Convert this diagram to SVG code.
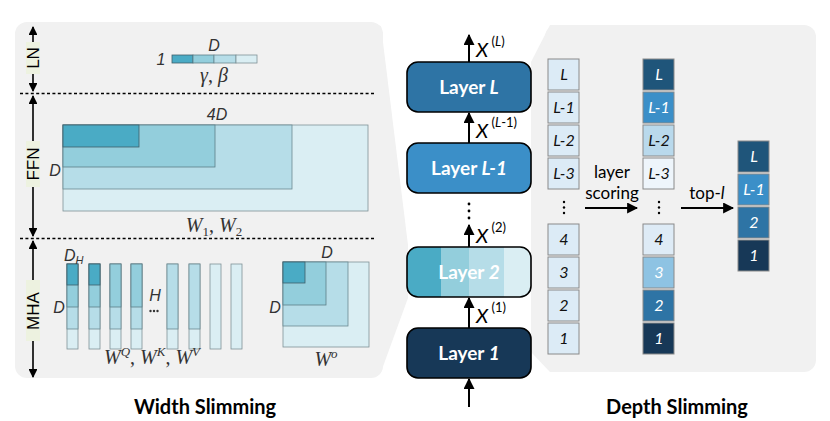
<svg xmlns="http://www.w3.org/2000/svg" width="830" height="421" viewBox="0 0 830 421">
<style>
.panel{fill:#f1f1f1}
.ax{stroke:#000;stroke-width:1.6;fill:none}
.dash{stroke:#000;stroke-width:1.5;stroke-dasharray:3 2.4}
.lbl{fill:#edf2e0}
.sec{font-family:"Liberation Sans",Arial,sans-serif;font-size:17px;fill:#000}
.c0{fill:#4aabc5;stroke:#3f5f6a;stroke-width:0.8}
.c1{fill:#93cedc;stroke:#5c7f88;stroke-width:0.8}
.c2{fill:#b6dde8;stroke:#6c8a92;stroke-width:0.8}
.c3{fill:#daeef3;stroke:#7f9297;stroke-width:0.8}
.m{font-family:"Liberation Sans",Arial,sans-serif;font-style:italic;font-size:16px;fill:#333}
.math{font-family:"Liberation Serif","Times New Roman",serif;font-style:italic;font-size:20px;fill:#333}
.layer{stroke:#000;stroke-width:1.6}
.lt{font-family:Lato,"Open Sans",sans-serif;font-weight:bold;font-size:19px;fill:#fff;text-anchor:middle}
.xl{font-family:Lato,"Open Sans",sans-serif;font-style:italic;font-size:20px;fill:#000}
.xs{font-family:Lato,"Open Sans",sans-serif;font-size:13px;fill:#000}
.conn{stroke:#000;stroke-width:2;fill:none}
.cell{stroke:#8a8a8a;stroke-width:1}
.ct{font-family:Lato,"Open Sans",sans-serif;font-style:italic;font-size:16px;text-anchor:middle}
.body{font-family:Lato,"Open Sans",sans-serif;font-size:17px;fill:#000;text-anchor:middle}
.title{font-family:Lato,"Open Sans",sans-serif;font-weight:bold;font-size:20px;fill:#000;text-anchor:middle}
</style>
<defs>
<marker id="ah" viewBox="0 0 10 10" refX="9" refY="5" markerWidth="5.5" markerHeight="5.5" orient="auto-start-reverse">
<path d="M0,0 L10,5 L0,10 z" fill="#000"/>
</marker>
<clipPath id="l2clip"><rect x="407" y="247" width="124" height="50" rx="11"/></clipPath>
</defs>

<!-- background panels -->
<g id="width-panel">
<rect class="panel" x="15" y="22" width="368" height="356" rx="12"/>
<polygon class="panel" points="372,24 381,26 408,245 408,298 381,372 372,377"/>
</g>
<g id="depth-panel">
<rect class="panel" x="545" y="25" width="271" height="347" rx="12"/>
<polygon class="panel" points="531,62 550,25 560,25 560,372 550,372 531,352"/>
</g>

<!-- section axis -->
<g id="axis">
<line class="ax" x1="33" y1="27" x2="33" y2="91" marker-start="url(#ah)" marker-end="url(#ah)"/>
<line class="ax" x1="33" y1="96" x2="33" y2="236" marker-start="url(#ah)" marker-end="url(#ah)"/>
<line class="ax" x1="33" y1="241" x2="33" y2="377" marker-start="url(#ah)" marker-end="url(#ah)"/>
<rect class="lbl" x="26" y="42" width="14" height="32"/>
<rect class="lbl" x="26" y="141" width="14" height="46"/>
<rect class="lbl" x="26" y="280" width="14" height="61"/>
<text class="sec" transform="translate(39,58) rotate(-90)" text-anchor="middle">LN</text>
<text class="sec" transform="translate(39,164) rotate(-90)" text-anchor="middle">FFN</text>
<text class="sec" transform="translate(39,311) rotate(-90)" text-anchor="middle">MHA</text>
<line class="dash" x1="20" y1="93.5" x2="374" y2="93.5"/>
<line class="dash" x1="20" y1="238.5" x2="374" y2="238.5"/>
</g>

<!-- LN -->
<g id="ln">
<rect class="c0" x="172" y="55" width="21" height="8"/>
<rect class="c1" x="193" y="55" width="21" height="8"/>
<rect class="c2" x="214" y="55" width="22" height="8"/>
<rect class="c3" x="236" y="55" width="21" height="8"/>
<text class="m" x="161" y="65" text-anchor="middle">1</text>
<text class="m" x="214" y="51" text-anchor="middle">D</text>
<text class="math" x="214" y="82" text-anchor="middle">γ<tspan font-style="normal">,</tspan> β</text>
</g>

<!-- FFN -->
<g id="ffn">
<rect class="c3" x="63" y="125" width="305" height="86"/>
<rect class="c2" x="63" y="125" width="229" height="64"/>
<rect class="c1" x="63" y="125" width="152" height="42"/>
<rect class="c0" x="63" y="125" width="76" height="22"/>
<text class="m" x="217" y="120" text-anchor="middle">4D</text>
<text class="m" x="55" y="176" text-anchor="middle">D</text>
<text class="math" x="214" y="232" text-anchor="middle">W<tspan font-style="normal" font-size="13" dy="4">1</tspan><tspan font-style="normal" dy="-4">, </tspan>W<tspan font-style="normal" font-size="13" dy="4">2</tspan></text>
</g>

<!-- MHA -->
<g id="mha-qkv">
<rect class="c3" x="67" y="264" width="11" height="85"/>
<rect class="c2" x="67" y="264" width="11" height="65"/>
<rect class="c1" x="67" y="264" width="11" height="43"/>
<rect class="c0" x="67" y="264" width="11" height="21"/>
<rect class="c3" x="89" y="264" width="11" height="85"/>
<rect class="c2" x="89" y="264" width="11" height="65"/>
<rect class="c1" x="89" y="264" width="11" height="43"/>
<rect class="c0" x="89" y="264" width="11" height="21"/>
<rect class="c3" x="110" y="264" width="11" height="85"/>
<rect class="c2" x="110" y="264" width="11" height="65"/>
<rect class="c1" x="110" y="264" width="11" height="43"/>
<rect class="c3" x="131" y="264" width="11" height="85"/>
<rect class="c2" x="131" y="264" width="11" height="65"/>
<rect class="c1" x="131" y="264" width="11" height="43"/>
<rect class="c3" x="167" y="264" width="11" height="85"/>
<rect class="c2" x="167" y="264" width="11" height="65"/>
<rect class="c3" x="189" y="264" width="11" height="85"/>
<rect class="c2" x="189" y="264" width="11" height="65"/>
<rect class="c3" x="210" y="264" width="11" height="85"/>
<rect class="c3" x="231" y="264" width="11" height="85"/>
<text class="m" x="64" y="261">D<tspan font-size="11" dy="3">H</tspan></text>
<text class="m" x="59" y="313" text-anchor="middle">D</text>
<text class="m" x="155" y="301" text-anchor="middle">H</text>
<g fill="#333"><circle cx="150.5" cy="311" r="1.2"/><circle cx="154" cy="311" r="1.2"/><circle cx="157.5" cy="311" r="1.2"/></g>
<text class="math" x="152" y="364" text-anchor="middle">W<tspan font-size="13" dy="-8">Q</tspan><tspan font-style="normal" dy="8">, </tspan>W<tspan font-size="13" dy="-8">K</tspan><tspan font-style="normal" dy="8">, </tspan>W<tspan font-size="13" dy="-8">V</tspan></text>
</g>
<g id="mha-wo">
<rect class="c3" x="283" y="262" width="86" height="85"/>
<rect class="c2" x="283" y="262" width="65" height="64"/>
<rect class="c1" x="283" y="262" width="43" height="43"/>
<rect class="c0" x="283" y="262" width="22" height="21"/>
<text class="m" x="327" y="258" text-anchor="middle">D</text>
<text class="m" x="275" y="313" text-anchor="middle">D</text>
<text class="math" x="326" y="366" text-anchor="middle">W<tspan font-size="13" dy="-8">o</tspan></text>
</g>

<!-- layer stack -->
<g id="layer-L">
<rect class="layer" x="407" y="62" width="124" height="50" rx="11" fill="#2e74a5"/>
<text class="lt" x="469" y="94">Layer <tspan font-style="italic">L</tspan></text>
</g>
<g id="layer-L-1">
<rect class="layer" x="407" y="143" width="124" height="50" rx="11" fill="#3b8fc8"/>
<text class="lt" x="469" y="175">Layer <tspan font-style="italic">L-1</tspan></text>
</g>
<g id="layer-2">
<g clip-path="url(#l2clip)">
<rect x="407" y="247" width="34" height="50" fill="#4aabc5"/>
<rect x="441" y="247" width="28" height="50" fill="#93cedc"/>
<rect x="469" y="247" width="35" height="50" fill="#b6dde8"/>
<rect x="504" y="247" width="27" height="50" fill="#daeef3"/>
</g>
<rect class="layer" x="407" y="247" width="124" height="50" rx="11" fill="none"/>
<text class="lt" x="469" y="279">Layer <tspan font-style="italic">2</tspan></text>
</g>
<g id="layer-1">
<rect class="layer" x="407" y="328" width="124" height="50" rx="11" fill="#173857"/>
<text class="lt" x="469" y="360">Layer <tspan font-style="italic">1</tspan></text>
</g>
<g fill="#000"><circle cx="469" cy="204" r="1.4"/><circle cx="469" cy="211" r="1.4"/><circle cx="469" cy="218" r="1.4"/></g>

<g id="stack-connectors">
<line class="conn" x1="469" y1="62" x2="469" y2="35" marker-end="url(#ah)"/>
<line class="conn" x1="469" y1="143" x2="469" y2="113" marker-end="url(#ah)"/>
<line class="conn" x1="469" y1="247" x2="469" y2="225" marker-end="url(#ah)"/>
<line class="conn" x1="469" y1="328" x2="469" y2="298" marker-end="url(#ah)"/>
<line class="conn" x1="469" y1="407" x2="469" y2="379" marker-end="url(#ah)"/>
<text class="xl" x="476" y="57">X<tspan class="xs" font-style="normal" dy="-11"> (</tspan><tspan class="xs" font-style="italic">L</tspan><tspan class="xs" font-style="normal">)</tspan></text>
<text class="xl" x="476" y="138">X<tspan class="xs" font-style="normal" dy="-11"> (</tspan><tspan class="xs" font-style="italic">L</tspan><tspan class="xs" font-style="normal">-1)</tspan></text>
<text class="xl" x="476" y="243">X<tspan class="xs" font-style="normal" dy="-11"> (2)</tspan></text>
<text class="xl" x="476" y="323">X<tspan class="xs" font-style="normal" dy="-11"> (1)</tspan></text>
</g>

<!-- depth slimming columns -->
<g id="col-all">
<rect class="cell" x="548" y="59" width="31" height="31" fill="#dcebf6"/>
<rect class="cell" x="548" y="92" width="31" height="31" fill="#dcebf6"/>
<rect class="cell" x="548" y="125" width="31" height="31" fill="#dcebf6"/>
<rect class="cell" x="548" y="158" width="31" height="31" fill="#dcebf6"/>
<rect class="cell" x="548" y="224" width="31" height="31" fill="#dcebf6"/>
<rect class="cell" x="548" y="257" width="31" height="31" fill="#dcebf6"/>
<rect class="cell" x="548" y="290" width="31" height="31" fill="#dcebf6"/>
<rect class="cell" x="548" y="323" width="31" height="31" fill="#dcebf6"/>
<g class="ct" fill="#111">
<text x="564" y="80">L</text><text x="564" y="113">L-1</text><text x="564" y="146">L-2</text><text x="564" y="179">L-3</text>
<text x="564" y="245">4</text><text x="564" y="278">3</text><text x="564" y="311">2</text><text x="564" y="344">1</text>
</g>
<g fill="#000"><circle cx="564" cy="202" r="1.2"/><circle cx="564" cy="207.5" r="1.2"/><circle cx="564" cy="213" r="1.2"/></g>
</g>
<g id="col-scored">
<rect class="cell" x="643" y="59" width="31" height="31" fill="#1f557a"/>
<rect class="cell" x="643" y="92" width="31" height="31" fill="#3b8fc8"/>
<rect class="cell" x="643" y="125" width="31" height="31" fill="#b9d9ec"/>
<rect class="cell" x="643" y="158" width="31" height="31" fill="#eef5fb"/>
<rect class="cell" x="643" y="224" width="31" height="31" fill="#deebf6"/>
<rect class="cell" x="643" y="257" width="31" height="31" fill="#8ec3e3"/>
<rect class="cell" x="643" y="290" width="31" height="31" fill="#2e74a5"/>
<rect class="cell" x="643" y="323" width="31" height="31" fill="#173857"/>
<g class="ct">
<text x="659" y="80" fill="#fff">L</text><text x="659" y="113" fill="#fff">L-1</text><text x="659" y="146" fill="#111">L-2</text><text x="659" y="179" fill="#111">L-3</text>
<text x="659" y="245" fill="#111">4</text><text x="659" y="278" fill="#fff">3</text><text x="659" y="311" fill="#fff">2</text><text x="659" y="344" fill="#fff">1</text>
</g>
<g fill="#000"><circle cx="659" cy="202" r="1.2"/><circle cx="659" cy="207.5" r="1.2"/><circle cx="659" cy="213" r="1.2"/></g>
</g>
<g id="col-top">
<rect class="cell" x="738" y="141" width="31" height="31" fill="#1f557a"/>
<rect class="cell" x="738" y="174" width="31" height="31" fill="#3b8fc8"/>
<rect class="cell" x="738" y="207" width="31" height="31" fill="#2e74a5"/>
<rect class="cell" x="738" y="240" width="31" height="31" fill="#173857"/>
<g class="ct" fill="#fff">
<text x="754" y="162">L</text><text x="754" y="195">L-1</text><text x="754" y="228">2</text><text x="754" y="261">1</text>
</g>
</g>
<g id="depth-connectors">
<line class="conn" x1="585" y1="208" x2="637" y2="208" marker-end="url(#ah)"/>
<line class="conn" x1="681" y1="208" x2="733" y2="208" marker-end="url(#ah)"/>
<text class="body" x="612" y="178">layer</text>
<text class="body" x="612" y="199">scoring</text>
<text class="body" x="707" y="199">top-<tspan font-style="italic">l</tspan></text>
</g>

<text class="title" x="205" y="414">Width Slimming</text>
<text class="title" x="677" y="414">Depth Slimming</text>
</svg>
